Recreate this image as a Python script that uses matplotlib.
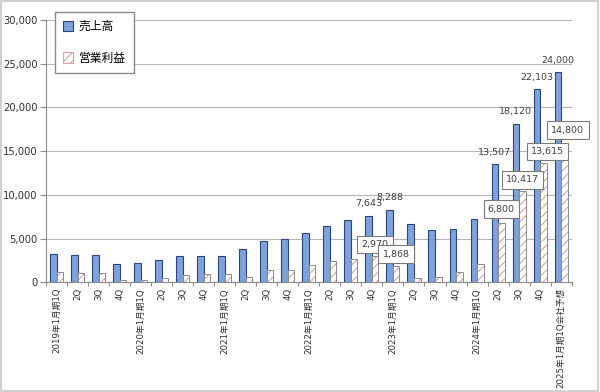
import matplotlib.pyplot as plt
import numpy as np
from matplotlib.patches import Patch, Rectangle

plt.rcParams['font.family'] = ['DejaVu Sans', 'Noto Sans CJK JP']
plt.rcParams['hatch.linewidth'] = 0.8

# -------------------------------
# DATA (百万円)
# -------------------------------
quarters = ["2019年1月期1Q", "2Q", "3Q", "4Q",
            "2020年1月期1Q", "2Q", "3Q", "4Q",
            "2021年1月期1Q", "2Q", "3Q", "4Q",
            "2022年1月期1Q", "2Q", "3Q", "4Q",
            "2023年1月期1Q", "2Q", "3Q", "4Q",
            "2024年1月期1Q", "2Q", "3Q", "4Q",
            "2025年1月期1Q会社予想"]
sales = [3230, 3080, 3150, 2150, 2230, 2580, 3000, 3040,
         3040, 3850, 4730, 5000, 5620, 6500, 7100, 7643,
         8288, 6720, 5960, 6080, 7220, 13507, 18120, 22103, 24000]
profit = [1230, 1080, 1040, 310, 310, 540, 890, 960,
          960, 650, 1420, 1460, 1960, 2460, 2700, 2970,
          1868, 460, 620, 1230, 2120, 6800, 10417, 13615, 14800]

# which bars get a value label
sales_labeled = [15, 16, 21, 22, 23, 24]
profit_labeled = [15, 16, 21, 22, 23, 24]

# -------------------------------
# COLORS
# -------------------------------
blue = '#7fa2da'
blue_edge = '#2a4682'
hatch_col = '#d9a2a2'
grey_edge = '#8a8a8a'

fig = plt.figure(figsize=(6, 3.92), dpi=100)
ax = fig.add_axes([0.0767, 0.2796, 0.8761, 0.6694])

x = np.arange(len(quarters))
w = 0.31

ax.bar(x - w / 2, sales, width=w, color=blue, edgecolor=blue_edge, linewidth=0.8, zorder=3)
ax.bar(x + w / 2, profit, width=w, color='white', edgecolor=hatch_col, hatch='////',
       linewidth=0, zorder=3)
ax.bar(x + w / 2, profit, width=w, fill=False, edgecolor=grey_edge, linewidth=0.7, zorder=3)

# -------------------------------
# VALUE LABELS
# -------------------------------
for i in sales_labeled:
    ax.annotate(f"{sales[i]:,}", (x[i] - w / 2, sales[i]), xytext=(0, 8.6),
                textcoords='offset points', ha='center', va='center',
                fontsize=6.8, color='#404040', zorder=5)

profit_offsets = {15: (0, 8.6), 16: (0, 8.6), 21: (0, 10), 22: (0, 8.3),
                  23: (3, 8.4), 24: (2.5, 16.5)}
for i in profit_labeled:
    ax.annotate(f"{profit[i]:,}", (x[i] + w / 2, profit[i]), xytext=profit_offsets[i],
                textcoords='offset points', ha='center', va='center',
                fontsize=6.8, color='#404040', zorder=6,
                bbox=dict(boxstyle='square,pad=0.45', fc='white', ec='#7a7a7a', lw=0.8))

# -------------------------------
# AXES
# -------------------------------
ax.set_xlim(-0.5, len(quarters) - 0.5)
ax.set_ylim(0, 30000)
ax.set_yticks(np.arange(0, 30001, 5000))
ax.set_yticklabels([f"{v:,}" for v in range(0, 30001, 5000)], fontsize=7.2, color='#303030')
ax.set_xticks(x)
ax.set_xticklabels(quarters, rotation=90, fontsize=6.2, color='#303030')
ax.set_xticks(np.arange(-0.5, len(quarters), 1), minor=True)
ax.tick_params(axis='x', which='major', length=0, pad=4)
ax.tick_params(axis='x', which='minor', length=3, color=grey_edge, width=0.8)
ax.tick_params(axis='y', length=4, color=grey_edge, width=0.8, pad=2)

ax.grid(axis='y', color='#b5b5b5', linewidth=0.8, zorder=0)
for s in ['top', 'right']:
    ax.spines[s].set_visible(False)
for s in ['left', 'bottom']:
    ax.spines[s].set_color(grey_edge)
    ax.spines[s].set_linewidth(0.8)

# -------------------------------
# LEGEND
# -------------------------------
handles = [Patch(facecolor=blue, edgecolor=blue_edge, linewidth=0.8),
           Patch(facecolor='white', edgecolor=hatch_col, hatch='////', linewidth=0.8)]
leg = ax.legend(handles, ["売上高", "営業利益"], loc='upper left',
                bbox_to_anchor=(0.017, 1.032), fontsize=8.5, frameon=True,
                fancybox=False, edgecolor='#8a8a8a', framealpha=1,
                labelspacing=1.6, borderpad=0.7, handlelength=0.8, handleheight=1.0,
                handletextpad=0.5, borderaxespad=0)
leg.get_frame().set_linewidth(1.0)
leg.set_zorder(10)

# border around the picture
fig.patches.append(Rectangle((0.002, 0.003), 0.995, 0.994, transform=fig.transFigure,
                             fill=False, edgecolor='#c8c8c8', linewidth=1.2))

fig.savefig("out.png", dpi=100)
